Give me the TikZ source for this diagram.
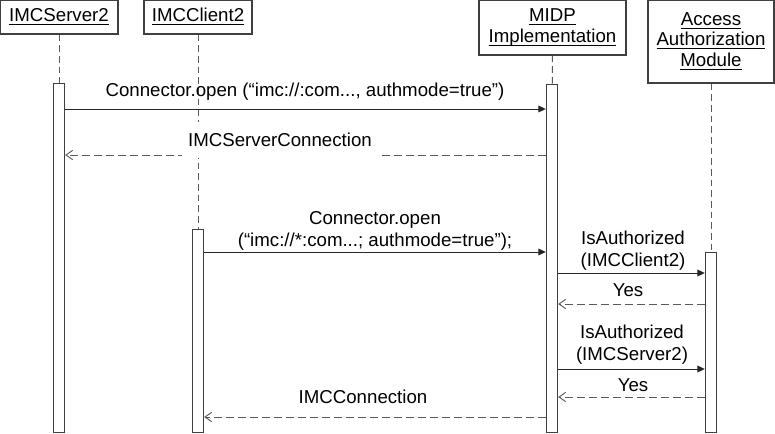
\documentclass[tikz,border=0pt]{standalone}
\usepackage{amsmath}
\usepackage{fontspec}
\setmainfont{Liberation Sans}
\usetikzlibrary{arrows.meta}

\definecolor{framegray}{HTML}{404040}
\definecolor{dashgray}{HTML}{5A5A5A}

\newcommand{\ulname}[1]{\underline{\smash[b]{#1}}}

\begin{document}
\begin{tikzpicture}[
    x=0.75pt, y=-0.75pt,
    font=\fontsize{14}{16.5}\selectfont,
    object/.style={draw=framegray, rectangle, align=center, inner sep=0pt, line width=0.8pt, font=\fontsize{14}{15.5}\selectfont},
    bar/.style={draw=framegray, fill=white, rectangle, minimum width=8.5pt, inner sep=0pt, anchor=north, line width=0.8pt},
    lifeline/.style={draw=dashgray, dash pattern=on 5pt off 3pt, line width=0.7pt},
    call/.style={-{Triangle[length=5.5pt, width=5pt]}, line width=0.7pt, black!85},
    reply/.style={-{Straight Barb[length=5pt, width=7pt]}, dash pattern=on 6pt off 3pt, line width=0.7pt, dashgray},
    msg/.style={align=center, inner sep=0pt},
]
\useasboundingbox (0,0) rectangle (775,434);

% Objects
\node[object, minimum width=88.5pt, minimum height=25.5pt] (srv) at (59,17) {\ulname{IMCServer2}};
\node[object, minimum width=81pt, minimum height=25.5pt] (cli) at (198,17) {\ulname{IMCClient2}};
\node[object, minimum width=110.25pt, minimum height=41.25pt] (midp) at (552.5,27.5) {\ulname{MIDP}\\\ulname{Implementation}};
\node[object, minimum width=94.5pt, minimum height=62.25pt] (aam) at (711,41.5) {\ulname{Access}\\\ulname{Authorization}\\\ulname{Module}};

% Activation bars
\node[bar, minimum height=261.75pt] (srvbar) at (59,83) {};
\node[bar, minimum height=152.25pt] (clibar) at (198,229) {};
\node[bar, minimum height=261pt] (midpbar) at (552,84) {};
\node[bar, minimum height=135pt] (aambar) at (711,252) {};

% Lifelines
\draw[lifeline] (srv) -- (srvbar);
\draw[lifeline] (cli) -- (clibar);
\draw[lifeline] (midp) -- (midpbar);
\draw[lifeline] (aam) -- (aambar);

% Server opens connection
\draw[call] (srvbar.east |- 0,109) -- (midpbar.west |- 0,109);
\node[msg, anchor=base] (open1) at (305,97) {Connector.open (“imc://:com..., authmode=true”)};
\draw[reply] (midpbar.west |- 0,155) -- (srvbar.east |- 0,155);
\node[msg, fill=white, inner xsep=5pt, minimum height=27pt] (srvconn) at (280,140) {IMCServerConnection};

% Client opens connection
\draw[call] (clibar.east |- 0,252) -- (midpbar.west |- 0,252);
\node[msg, anchor=base] (open2) at (375,247) {Connector.open\\(“imc://*:com...; authmode=true”);};

% Authorization checks
\draw[call] (midpbar.east |- 0,273) -- (aambar.west |- 0,273);
\node[msg, anchor=base] (auth1) at (633,267) {IsAuthorized\\(IMCClient2)};
\draw[reply] (aambar.west |- 0,304) -- (midpbar.east |- 0,304);
\node[msg, anchor=base] (yes1) at (628,297) {Yes};
\draw[call] (midpbar.east |- 0,369) -- (aambar.west |- 0,369);
\node[msg, anchor=base] (auth2) at (632,361) {IsAuthorized\\(IMCServer2)};
\draw[reply] (aambar.west |- 0,397) -- (midpbar.east |- 0,397);
\node[msg, anchor=base] (yes2) at (633,392) {Yes};

% Connection returned to client
\draw[reply] (midpbar.west |- 0,417) -- (clibar.east |- 0,417);
\node[msg, anchor=base] (imcconn) at (363,404) {IMCConnection};

\end{tikzpicture}
\end{document}
